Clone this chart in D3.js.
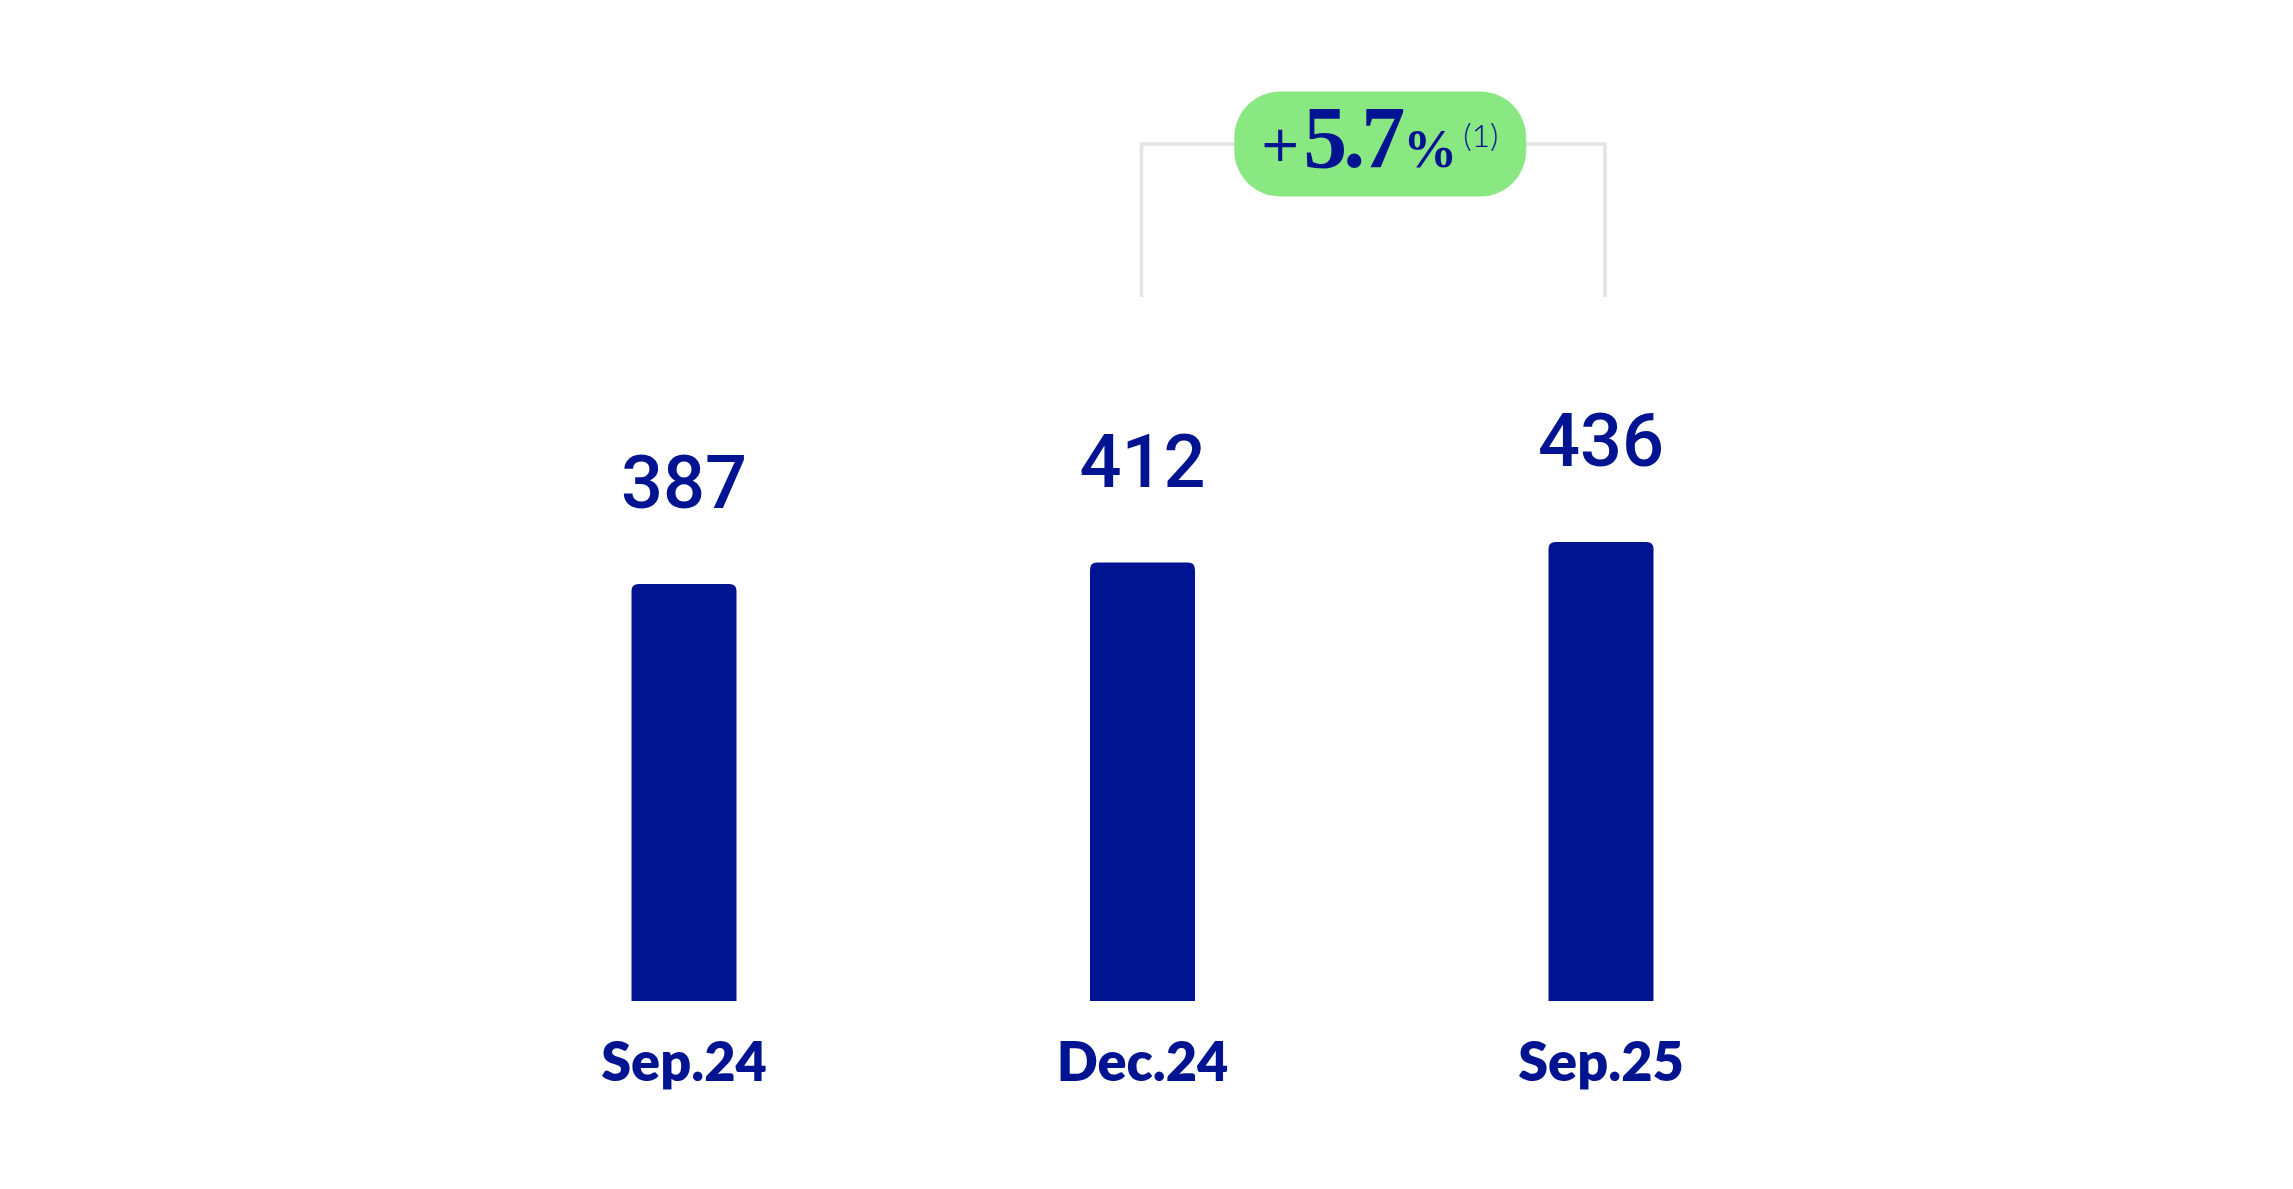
<!DOCTYPE html>
<html>
<head>
<meta charset="utf-8">
<script src="https://cdn.jsdelivr.net/npm/d3@7"></script>
<style>
  html, body { margin: 0; padding: 0; background: #fff; }
  svg { display: block; }
</style>
</head>
<body>
<svg></svg>
<script>
    // data
    const categories = ['Sep.24', 'Dec.24', 'Sep.25'];
    const values = [387, 412, 436];
    const growth = { from: 'Dec.24', to: 'Sep.25', sign: '+', value: '5.7', unit: '%', note: '(1)' };

    // colours
    const navy = '#001391';
    const green = '#8ae883';
    const grey = '#e1e4e8';

    // dimensions
    const width = 2293;
    const height = 1189;
    const svg = d3.select('svg')
      .attr('width', width)
      .attr('height', height);

    svg.append('rect')
      .attr('width', width)
      .attr('height', height)
      .attr('fill', '#fff');

    // scales
    const xScale = d3.scalePoint()
      .domain(categories)
      .range([684, 1601]);
    const yScale = d3.scaleLinear()
      .domain([-100, 450])
      .range([1001, 530]);
    const barWidth = 105;
    const r = 7;

    // bars with rounded top corners
    function barPath(cx, top, bottom) {
      const x0 = cx - barWidth / 2, x1 = cx + barWidth / 2;
      return 'M' + x0 + ',' + bottom +
        'L' + x0 + ',' + (top + r) +
        'Q' + x0 + ',' + top + ' ' + (x0 + r) + ',' + top +
        'L' + (x1 - r) + ',' + top +
        'Q' + x1 + ',' + top + ' ' + x1 + ',' + (top + r) +
        'L' + x1 + ',' + bottom + 'Z';
    }

    const data = categories.map(function(c, i) { return { cat: c, value: values[i] }; });

    svg.append('g').selectAll('path')
      .data(data)
      .enter().append('path')
      .attr('d', function(d) { return barPath(xScale(d.cat), yScale(d.value), yScale(-100)); })
      .attr('fill', navy);

    // value labels
    svg.append('g').selectAll('text')
      .data(data)
      .enter().append('text')
      .attr('x', function(d) { return xScale(d.cat); })
      .attr('y', function(d) { return yScale(d.value) - 76; })
      .attr('text-anchor', 'middle')
      .style('font-family', 'Roboto, Lato, sans-serif')
      .style('font-size', '74px')
      .style('font-weight', 500)
      .attr('fill', navy)
      .text(function(d) { return d.value; });

    // category labels
    svg.append('g').selectAll('text')
      .data(data)
      .enter().append('text')
      .attr('x', function(d) { return xScale(d.cat); })
      .attr('y', 1081)
      .attr('text-anchor', 'middle')
      .style('font-family', 'Lato, sans-serif')
      .style('font-size', '54px')
      .style('font-weight', 800)
      .attr('fill', navy)
      .text(function(d) { return d.cat; });

    // growth bracket
    const bx0 = xScale(growth.from) - 1;
    const bx1 = xScale(growth.to) + 4;
    const bTop = 144;
    const bBottom = 297;
    svg.append('path')
      .attr('d', 'M' + bx0 + ',' + bBottom + 'L' + bx0 + ',' + bTop + 'L' + bx1 + ',' + bTop + 'L' + bx1 + ',' + bBottom)
      .attr('fill', 'none')
      .attr('stroke', grey)
      .attr('stroke-width', 3.5);

    // badge
    const badgeW = 292, badgeH = 105;
    const badgeCx = (bx0 + bx1) / 2 + 7;
    svg.append('rect')
      .attr('x', badgeCx - badgeW / 2)
      .attr('y', bTop - badgeH / 2)
      .attr('width', badgeW)
      .attr('height', badgeH)
      .attr('rx', 46)
      .attr('fill', green);

    const label = svg.append('text')
      .attr('x', badgeCx - badgeW / 2 + 25)
      .attr('y', 167)
      .attr('fill', navy);
    label.append('tspan')
      .style('font-family', '"DejaVu Sans", sans-serif')
      .style('font-size', '50px')
      .style('font-weight', 400)
      .attr('dy', -6)
      .text(growth.sign);
    label.append('tspan')
      .style('font-family', '"Liberation Serif", serif')
      .style('font-size', '88px')
      .style('font-weight', 700)
      .style('letter-spacing', '-4px')
      .attr('dx', 2)
      .attr('dy', 6)
      .text(growth.value);
    label.append('tspan')
      .style('font-family', '"Liberation Serif", serif')
      .style('font-size', '54px')
      .style('font-weight', 700)
      .attr('dx', 2)
      .text(growth.unit);
    label.append('tspan')
      .style('font-family', 'Lato, sans-serif')
      .style('font-size', '32px')
      .style('font-weight', 300)
      .attr('dx', 6)
      .attr('dy', -20)
      .text(growth.note);
</script>
</body>
</html>
